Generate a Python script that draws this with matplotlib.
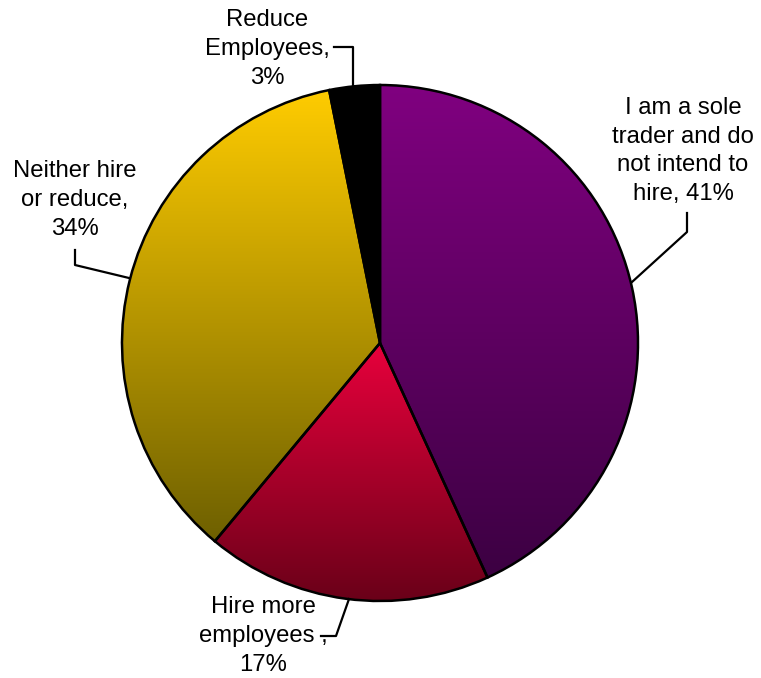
import matplotlib
matplotlib.use("Agg")
import matplotlib.pyplot as plt
import numpy as np
from matplotlib.colors import LinearSegmentedColormap

plt.rcParams['font.family'] = ['Liberation Sans', 'DejaVu Sans']

# survey answers, clockwise from 12 o'clock
labels = ["I am a sole\ntrader and do\nnot intend to\nhire, 41%",
          "Hire more\nemployees ,\n17%",
          "Neither hire\nor reduce,\n34%",
          "Reduce\nEmployees,\n3%"]
values = [41, 17, 34, 3]
top_colors = ["#800080", "#e8003c", "#ffcc00", "#000000"]
bottom_colors = ["#3c0042", "#680018", "#6e6000", "#000000"]

W, H = 761, 678
cx, cy, R = 380, 343, 258   # pie centre / radius in pixels


def px(x, y):
    # pixel position -> data coords (pie radius = 1)
    return (x - cx) / R, (cy - y) / R


fig = plt.figure(figsize=(W / 100, H / 100), dpi=100)
ax = fig.add_axes([0, 0, 1, 1])
ax.axis('off')

wedges, _ = ax.pie(values, startangle=90, counterclock=False, radius=1,
                   wedgeprops=dict(facecolor='none', edgecolor='black', linewidth=1.8))

# vertical gradient fill for each slice, clipped to the wedge
for w, c0, c1 in zip(wedges, top_colors, bottom_colors):
    verts = w.get_path().vertices
    pts = w.get_patch_transform().transform(verts)
    x0, x1 = pts[:, 0].min(), pts[:, 0].max()
    y0, y1 = pts[:, 1].min(), pts[:, 1].max()
    cmap = LinearSegmentedColormap.from_list("g", [c1, c0])
    grad = np.linspace(0, 1, 256).reshape(-1, 1)
    im = ax.imshow(grad, cmap=cmap, extent=(x0, x1, y0, y1), origin='lower',
                   aspect='auto', zorder=0.5, interpolation='bilinear')
    im.set_clip_path(w)
    w.set_zorder(1)

ax.set_aspect('equal')
ax.set_xlim(px(0, 0)[0], px(W, 0)[0])
ax.set_ylim(px(0, H)[1], px(0, 0)[1])

fs = 17.2
label_pos = [(683, 151), (263, 636), (75, 200), (267, 49)]
leaders = [
    [(687, 213), (687, 232), (632, 282)],
    [(321, 636), (336, 636), (349, 599)],
    [(75, 250), (75, 265), (129, 278)],
    [(334, 47), (353, 47), (353, 85)],
]
for text, (tx, ty), pts in zip(labels, label_pos, leaders):
    x, y = px(tx, ty)
    ax.text(x, y, text, ha='center', va='center', fontsize=fs,
            linespacing=1.4, color='black')
    xy = np.array([px(a, b) for a, b in pts])
    ax.plot(xy[:, 0], xy[:, 1], color='black', linewidth=1.6, zorder=2)

fig.savefig("out.png", dpi=100)
